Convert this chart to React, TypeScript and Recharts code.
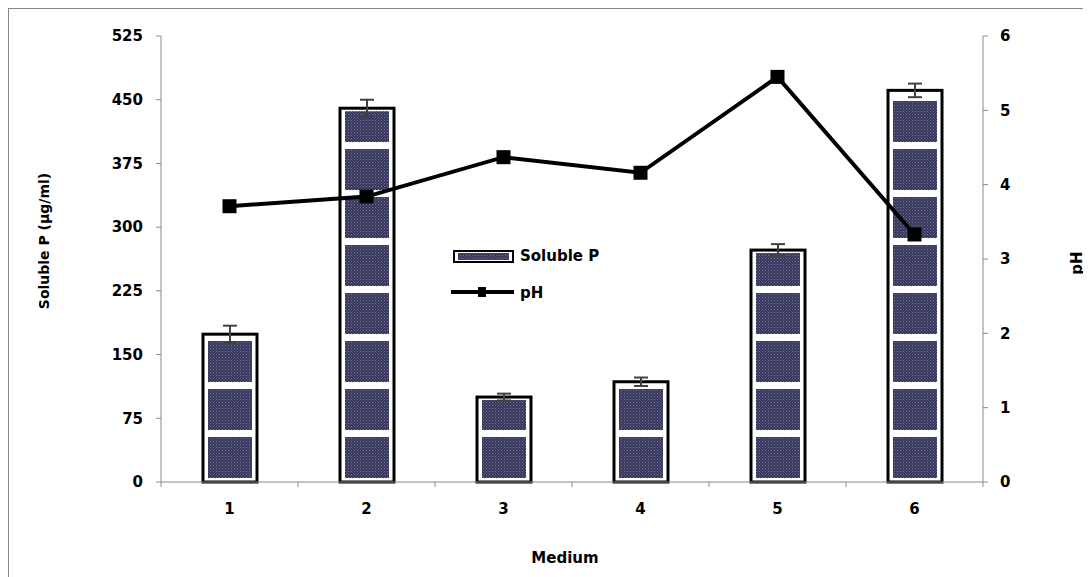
import { ComposedChart, Bar, Line, XAxis, YAxis, ErrorBar, Legend, Label } from 'recharts'

const categories = ['1', '2', '3', '4', '5', '6']
const solubleP = [174, 440, 100, 118, 273, 461]
const solublePErr = [10, 10, 4, 5, 7, 8]
const phValues = [3.71, 3.84, 4.37, 4.16, 5.45, 3.33]
const leftTicks = [0, 75, 150, 225, 300, 375, 450, 525]
const rightTicks = [0, 1, 2, 3, 4, 5, 6]

const data = categories.map((c, i) => ({
  medium: c,
  solubleP: solubleP[i],
  err: solublePErr[i],
  ph: phValues[i],
}))

const FONT = '"DejaVu Sans", Verdana, sans-serif'
const AXIS_GRAY = '#8a8a8a'
const W = 1082
const H = 568
const MARGIN = { top: 27, right: 48, bottom: 65, left: 92 }
const Y_W = 60
const HALF_BAND = (W - MARGIN.left - MARGIN.right - 2 * Y_W) / categories.length / 2

const tickStyle = { fill: '#000', fontSize: 15, fontWeight: 700, fontFamily: FONT }

function PatternBar(props: any) {
  const { x, y, width, height } = props
  if (!height || height <= 0) return null
  const bottom = y + height
  const blocks = []
  for (let b = bottom - 4; b > y + 3; b -= 48) {
    const top = Math.max(b - 41, y + 3)
    if (b - top < 1) continue
    blocks.push(
      <rect key={b} x={x + 5} y={top} width={width - 10} height={b - top} fill="url(#dots)" />
    )
  }
  return (
    <g>
      <rect x={x} y={y} width={width} height={height} fill="#fff" stroke="#000" strokeWidth={3} />
      {blocks}
    </g>
  )
}

function SquareDot(props: any) {
  const { cx, cy, index } = props
  return <rect key={index} x={cx - 7} y={cy - 7} width={14} height={14} fill="#000" />
}

function XTick(props: any) {
  const { x, y, payload, index } = props
  return (
    <g>
      <line x1={x - HALF_BAND} x2={x - HALF_BAND} y1={y} y2={y + 5} stroke={AXIS_GRAY} />
      {index === categories.length - 1 && (
        <line x1={x + HALF_BAND} x2={x + HALF_BAND} y1={y} y2={y + 5} stroke={AXIS_GRAY} />
      )}
      <text x={x} y={y + 27} textAnchor="middle" dominantBaseline="middle" {...tickStyle}>
        {payload.value}
      </text>
    </g>
  )
}

function renderLegend() {
  return (
    <svg width={180} height={70} style={{ display: 'block' }}>
      <rect x={9} y={11} width={59} height={11} fill="#fff" stroke="#000" strokeWidth={2} />
      <rect x={13} y={13} width={51} height={7} fill="url(#dots)" />
      <text x={75} y={16} dominantBaseline="middle" fontSize={15} fontWeight={700} fontFamily={FONT}>
        Soluble P
      </text>
      <line x1={6} x2={69} y1={52} y2={52} stroke="#000" strokeWidth={4} />
      <rect x={33} y={47} width={8} height={10} fill="#000" />
      <text x={75} y={53} dominantBaseline="middle" fontSize={15} fontWeight={700} fontFamily={FONT}>
        pH
      </text>
    </svg>
  )
}

export default function App() {
  return (
    <div
      style={{
        position: 'relative',
        width: 1083,
        height: 569,
        borderLeft: '1px solid #868686',
        borderTop: '1px solid #868686',
        background: '#fff',
        overflow: 'hidden',
      }}
    >
      <ComposedChart width={W} height={H} data={data} margin={MARGIN}>
        <defs>
          <pattern id="dots" width={3} height={3} patternUnits="userSpaceOnUse">
            <rect width={3} height={3} fill="#35355c" />
            <rect width={1} height={1} fill="#7a7a9e" />
            <rect x={1.5} y={1.5} width={1} height={1} fill="#6a6a90" />
          </pattern>
        </defs>
        <XAxis
          dataKey="medium"
          height={30}
          stroke={AXIS_GRAY}
          tickLine={false}
          tickSize={0}
          tickMargin={0}
          tick={<XTick />}
          interval={0}
        >
          <Label
            content={() => (
              <text x={556} y={549} textAnchor="middle" dominantBaseline="middle" fontSize={15} fontWeight={700} fontFamily={FONT}>
                Medium
              </text>
            )}
          />
        </XAxis>
        <YAxis
          yAxisId="left"
          width={Y_W}
          domain={[0, 525]}
          ticks={leftTicks}
          interval={0}
          stroke={AXIS_GRAY}
          tickSize={5}
          tickMargin={13}
          tick={tickStyle}
        >
          <Label
            content={() => (
              <text
                x={36}
                y={232}
                transform="rotate(-90 36 232)"
                textAnchor="middle"
                dominantBaseline="middle"
                fontSize={14}
                fontWeight={700}
                fontFamily={FONT}
              >
                Soluble P (µg/ml)
              </text>
            )}
          />
        </YAxis>
        <YAxis
          yAxisId="right"
          orientation="right"
          width={Y_W}
          domain={[0, 6]}
          ticks={rightTicks}
          interval={0}
          stroke={AXIS_GRAY}
          tickSize={5}
          tickMargin={12}
          tick={tickStyle}
        >
          <Label
            content={() => (
              <text
                x={1068}
                y={254}
                transform="rotate(-90 1068 254)"
                textAnchor="middle"
                dominantBaseline="middle"
                fontSize={15}
                fontWeight={700}
                fontFamily={FONT}
              >
                pH
              </text>
            )}
          />
        </YAxis>
        <Legend
          layout="vertical"
          align="center"
          verticalAlign="middle"
          content={renderLegend}
          wrapperStyle={{ position: 'absolute', left: 436, top: 231, width: 180, height: 70 }}
        />
        <Bar
          yAxisId="left"
          dataKey="solubleP"
          name="Soluble P"
          barSize={54}
          shape={<PatternBar />}
          isAnimationActive={false}
        >
          <ErrorBar dataKey="err" width={7} stroke="#404040" strokeWidth={2} direction="y" />
        </Bar>
        <Line
          yAxisId="right"
          dataKey="ph"
          name="pH"
          type="linear"
          stroke="#000"
          strokeWidth={4}
          dot={<SquareDot />}
          activeDot={false}
          isAnimationActive={false}
        />
      </ComposedChart>
    </div>
  )
}
